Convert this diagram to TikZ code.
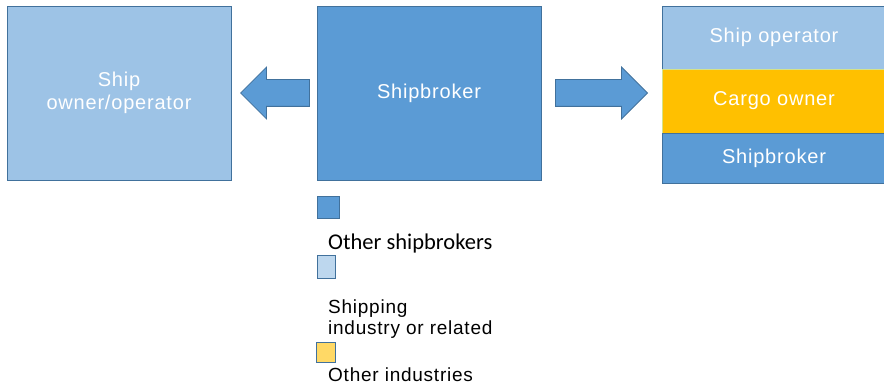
\documentclass[tikz,border=0pt]{standalone}
\usepackage{fontspec}
\setmainfont{Liberation Sans}[LetterSpace=4]
\newfontfamily\legendfont{Carlito}
\usetikzlibrary{shapes.arrows}
\definecolor{brokerblue}{HTML}{5B9BD5}
\definecolor{lightblue}{HTML}{9DC3E6}
\definecolor{cargogold}{HTML}{FFC000}
\definecolor{edgeblue}{HTML}{41719C}
\definecolor{paleblue}{HTML}{BDD7EE}
\definecolor{paleyellow}{HTML}{FFD966}
\definecolor{limeedge}{HTML}{D5E28A}

\begin{document}
\begin{tikzpicture}[x=1pt, y=-1pt,
    box/.style={rectangle, draw=edgeblue, line width=0.8pt, text=white, inner sep=0pt,
      align=center, font=\fontsize{20}{23}\selectfont},
    fat arrow/.style={single arrow, draw=edgeblue, fill=brokerblue, line width=0.8pt,
      inner sep=0pt, single arrow head extend=12.5pt, single arrow tip angle=90, anchor=tip},
    key/.style={rectangle, draw=edgeblue, line width=0.8pt, inner sep=0pt},
    keytext/.style={anchor=west, inner sep=0pt, align=left, font=\fontsize{19}{21}\selectfont}]
  \useasboundingbox (0,0) rectangle (884,390);

  % main boxes
  \node[box, fill=lightblue, minimum width=224pt, minimum height=174pt] (owner) at (119,93) {Ship\\owner/operator};
  \node[box, fill=brokerblue, minimum width=224pt, minimum height=174pt] (broker) at (429,93) {Shipbroker};

  % right stack
  \node[box, fill=lightblue, minimum width=224pt, minimum height=63pt] (operator) at (774,37.5) {Ship operator};
  \node[box, fill=cargogold, draw=limeedge, minimum width=224pt, minimum height=64pt] (cargo) at (774,101) {Cargo owner};
  \node[box, fill=brokerblue, minimum width=224pt, minimum height=50pt] (broker2) at (774,158) {Shipbroker};

  % arrows
  \node[fat arrow, shape border rotate=180, minimum height=69pt] (toowner) at (240,93) {\rule{0pt}{26pt}};
  \node[fat arrow, minimum height=92pt] (tostack) at (648,93) {\rule{0pt}{26pt}};

  % legend
  \node[key, fill=brokerblue, minimum width=22pt, minimum height=22pt] (key1) at (328,207) {};
  \node[keytext, font=\legendfont\fontsize{22.5}{24}\selectfont] (text1) at (328,244) {Other shipbrokers};
  \node[key, fill=paleblue, minimum width=18pt, minimum height=23pt] (key2) at (326,266.5) {};
  \node[keytext] (text2) at (328,319.5) {Shipping\\industry or related};
  \node[key, fill=paleyellow, minimum width=19pt, minimum height=20pt] (key3) at (325.5,352) {};
  \node[keytext] (text3) at (328,375) {Other industries};
\end{tikzpicture}
\end{document}
